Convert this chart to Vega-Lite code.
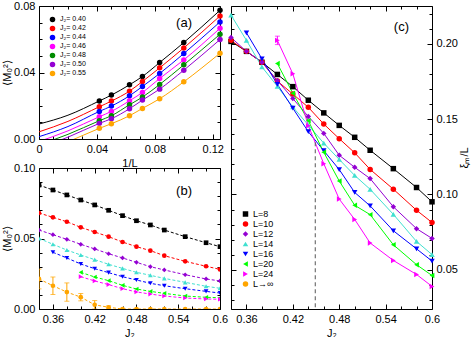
{
  "$schema": "https://vega.github.io/schema/vega-lite/v6.json",
  "padding": {"left": 1, "top": -1, "right": 2, "bottom": 1},
  "config": {
    "font": "Liberation Sans",
    "view": {"stroke": "black", "strokeWidth": 1},
    "axis": {"domain": false, "grid": false, "tickColor": "black", "tickWidth": 1, "labelColor": "black", "labelFontSize": 11, "labelFont": "Liberation Sans", "titleFont": "Liberation Sans", "titleFontSize": 11, "titleFontWeight": "normal", "titleColor": "black", "labelFlush": false, "labelOverlap": false},
    "legend": {"symbolStrokeWidth": 0, "padding": 0},
    "title": {"font": "Liberation Sans", "fontWeight": "normal", "fontSize": 13, "color": "black"}
  },
  "datasets": {
    "a": [
      {"J2": "J₂= 0.40", "kind": "fit", "invL": 0, "M": 0.009},
      {"J2": "J₂= 0.40", "kind": "fit", "invL": 0.02, "M": 0.0143},
      {"J2": "J₂= 0.40", "kind": "data", "invL": 0.04167, "M": 0.0229},
      {"J2": "J₂= 0.40", "kind": "data", "invL": 0.05, "M": 0.0264},
      {"J2": "J₂= 0.40", "kind": "data", "invL": 0.0625, "M": 0.0326},
      {"J2": "J₂= 0.40", "kind": "data", "invL": 0.07143, "M": 0.0376},
      {"J2": "J₂= 0.40", "kind": "data", "invL": 0.08333, "M": 0.046},
      {"J2": "J₂= 0.40", "kind": "data", "invL": 0.1, "M": 0.058},
      {"J2": "J₂= 0.40", "kind": "data", "invL": 0.125, "M": 0.0774},
      {"J2": "J₂= 0.42", "kind": "fit", "invL": 0, "M": 0.0043},
      {"J2": "J₂= 0.42", "kind": "fit", "invL": 0.02, "M": 0.0106},
      {"J2": "J₂= 0.42", "kind": "data", "invL": 0.04167, "M": 0.0194},
      {"J2": "J₂= 0.42", "kind": "data", "invL": 0.05, "M": 0.0228},
      {"J2": "J₂= 0.42", "kind": "data", "invL": 0.0625, "M": 0.0288},
      {"J2": "J₂= 0.42", "kind": "data", "invL": 0.07143, "M": 0.0346},
      {"J2": "J₂= 0.42", "kind": "data", "invL": 0.08333, "M": 0.0428},
      {"J2": "J₂= 0.42", "kind": "data", "invL": 0.1, "M": 0.0548},
      {"J2": "J₂= 0.42", "kind": "data", "invL": 0.125, "M": 0.074},
      {"J2": "J₂= 0.44", "kind": "fit", "invL": 0, "M": 0.0014},
      {"J2": "J₂= 0.44", "kind": "fit", "invL": 0.02, "M": 0.0075},
      {"J2": "J₂= 0.44", "kind": "data", "invL": 0.04167, "M": 0.0166},
      {"J2": "J₂= 0.44", "kind": "data", "invL": 0.05, "M": 0.0198},
      {"J2": "J₂= 0.44", "kind": "data", "invL": 0.0625, "M": 0.026},
      {"J2": "J₂= 0.44", "kind": "data", "invL": 0.07143, "M": 0.0316},
      {"J2": "J₂= 0.44", "kind": "data", "invL": 0.08333, "M": 0.0394},
      {"J2": "J₂= 0.44", "kind": "data", "invL": 0.1, "M": 0.0514},
      {"J2": "J₂= 0.44", "kind": "data", "invL": 0.125, "M": 0.0704},
      {"J2": "J₂= 0.46", "kind": "fit", "invL": 0, "M": -0.0015},
      {"J2": "J₂= 0.46", "kind": "fit", "invL": 0.02, "M": 0.0049},
      {"J2": "J₂= 0.46", "kind": "data", "invL": 0.04167, "M": 0.0134},
      {"J2": "J₂= 0.46", "kind": "data", "invL": 0.05, "M": 0.0166},
      {"J2": "J₂= 0.46", "kind": "data", "invL": 0.0625, "M": 0.023},
      {"J2": "J₂= 0.46", "kind": "data", "invL": 0.07143, "M": 0.028},
      {"J2": "J₂= 0.46", "kind": "data", "invL": 0.08333, "M": 0.0364},
      {"J2": "J₂= 0.46", "kind": "data", "invL": 0.1, "M": 0.0476},
      {"J2": "J₂= 0.46", "kind": "data", "invL": 0.125, "M": 0.0666},
      {"J2": "J₂= 0.48", "kind": "fit", "invL": 0, "M": -0.0035},
      {"J2": "J₂= 0.48", "kind": "fit", "invL": 0.02, "M": 0.0028},
      {"J2": "J₂= 0.48", "kind": "data", "invL": 0.04167, "M": 0.011},
      {"J2": "J₂= 0.48", "kind": "data", "invL": 0.05, "M": 0.014},
      {"J2": "J₂= 0.48", "kind": "data", "invL": 0.0625, "M": 0.0206},
      {"J2": "J₂= 0.48", "kind": "data", "invL": 0.07143, "M": 0.0252},
      {"J2": "J₂= 0.48", "kind": "data", "invL": 0.08333, "M": 0.0328},
      {"J2": "J₂= 0.48", "kind": "data", "invL": 0.1, "M": 0.0446},
      {"J2": "J₂= 0.48", "kind": "data", "invL": 0.125, "M": 0.063},
      {"J2": "J₂= 0.50", "kind": "fit", "invL": 0, "M": -0.0055},
      {"J2": "J₂= 0.50", "kind": "fit", "invL": 0.02, "M": 0.0011},
      {"J2": "J₂= 0.50", "kind": "data", "invL": 0.04167, "M": 0.0094},
      {"J2": "J₂= 0.50", "kind": "data", "invL": 0.05, "M": 0.0122},
      {"J2": "J₂= 0.50", "kind": "data", "invL": 0.0625, "M": 0.0182},
      {"J2": "J₂= 0.50", "kind": "data", "invL": 0.07143, "M": 0.0234},
      {"J2": "J₂= 0.50", "kind": "data", "invL": 0.08333, "M": 0.03},
      {"J2": "J₂= 0.50", "kind": "data", "invL": 0.1, "M": 0.0414},
      {"J2": "J₂= 0.50", "kind": "data", "invL": 0.125, "M": 0.0598},
      {"J2": "J₂= 0.55", "kind": "fit", "invL": 0, "M": -0.0085},
      {"J2": "J₂= 0.55", "kind": "fit", "invL": 0.02, "M": -0.0017},
      {"J2": "J₂= 0.55", "kind": "data", "invL": 0.04167, "M": 0.0064},
      {"J2": "J₂= 0.55", "kind": "data", "invL": 0.05, "M": 0.0092},
      {"J2": "J₂= 0.55", "kind": "data", "invL": 0.0625, "M": 0.014},
      {"J2": "J₂= 0.55", "kind": "data", "invL": 0.07143, "M": 0.0184},
      {"J2": "J₂= 0.55", "kind": "data", "invL": 0.08333, "M": 0.0242},
      {"J2": "J₂= 0.55", "kind": "data", "invL": 0.1, "M": 0.0344},
      {"J2": "J₂= 0.55", "kind": "data", "invL": 0.125, "M": 0.0516}
    ],
    "b": [
      {"L": "L=8", "J2": 0.34, "M": 0.0879}, {"L": "L=8", "J2": 0.36, "M": 0.0844}, {"L": "L=8", "J2": 0.38, "M": 0.0809}, {"L": "L=8", "J2": 0.40, "M": 0.0773}, {"L": "L=8", "J2": 0.42, "M": 0.0738}, {"L": "L=8", "J2": 0.44, "M": 0.0700}, {"L": "L=8", "J2": 0.46, "M": 0.0662}, {"L": "L=8", "J2": 0.48, "M": 0.0626}, {"L": "L=8", "J2": 0.50, "M": 0.0596}, {"L": "L=8", "J2": 0.52, "M": 0.0560}, {"L": "L=8", "J2": 0.55, "M": 0.0513}, {"L": "L=8", "J2": 0.58, "M": 0.0470}, {"L": "L=8", "J2": 0.60, "M": 0.0442},
      {"L": "L=10", "J2": 0.34, "M": 0.0681}, {"L": "L=10", "J2": 0.36, "M": 0.0650}, {"L": "L=10", "J2": 0.38, "M": 0.0619}, {"L": "L=10", "J2": 0.40, "M": 0.0579}, {"L": "L=10", "J2": 0.42, "M": 0.0546}, {"L": "L=10", "J2": 0.44, "M": 0.0513}, {"L": "L=10", "J2": 0.46, "M": 0.0475}, {"L": "L=10", "J2": 0.48, "M": 0.0442}, {"L": "L=10", "J2": 0.50, "M": 0.0414}, {"L": "L=10", "J2": 0.52, "M": 0.0378}, {"L": "L=10", "J2": 0.55, "M": 0.0338}, {"L": "L=10", "J2": 0.58, "M": 0.0303}, {"L": "L=10", "J2": 0.60, "M": 0.0281},
      {"L": "L=12", "J2": 0.34, "M": 0.0560}, {"L": "L=12", "J2": 0.36, "M": 0.0527}, {"L": "L=12", "J2": 0.38, "M": 0.0494}, {"L": "L=12", "J2": 0.40, "M": 0.0459}, {"L": "L=12", "J2": 0.42, "M": 0.0426}, {"L": "L=12", "J2": 0.44, "M": 0.0392}, {"L": "L=12", "J2": 0.46, "M": 0.0362}, {"L": "L=12", "J2": 0.48, "M": 0.0331}, {"L": "L=12", "J2": 0.50, "M": 0.0300}, {"L": "L=12", "J2": 0.52, "M": 0.0277}, {"L": "L=12", "J2": 0.55, "M": 0.0243}, {"L": "L=12", "J2": 0.58, "M": 0.0213}, {"L": "L=12", "J2": 0.60, "M": 0.0199},
      {"L": "L=14", "J2": 0.34, "M": 0.0501}, {"L": "L=14", "J2": 0.36, "M": 0.0459}, {"L": "L=14", "J2": 0.38, "M": 0.0418}, {"L": "L=14", "J2": 0.40, "M": 0.0383}, {"L": "L=14", "J2": 0.42, "M": 0.0350}, {"L": "L=14", "J2": 0.44, "M": 0.0317}, {"L": "L=14", "J2": 0.46, "M": 0.0288}, {"L": "L=14", "J2": 0.48, "M": 0.0260}, {"L": "L=14", "J2": 0.50, "M": 0.0239}, {"L": "L=14", "J2": 0.52, "M": 0.0217}, {"L": "L=14", "J2": 0.55, "M": 0.0189}, {"L": "L=14", "J2": 0.58, "M": 0.0161}, {"L": "L=14", "J2": 0.60, "M": 0.0147},
      {"L": "L=16", "J2": 0.36, "M": 0.0402}, {"L": "L=16", "J2": 0.38, "M": 0.0362}, {"L": "L=16", "J2": 0.40, "M": 0.0319}, {"L": "L=16", "J2": 0.42, "M": 0.0286}, {"L": "L=16", "J2": 0.44, "M": 0.0258}, {"L": "L=16", "J2": 0.46, "M": 0.0229}, {"L": "L=16", "J2": 0.48, "M": 0.0206}, {"L": "L=16", "J2": 0.50, "M": 0.0182}, {"L": "L=16", "J2": 0.52, "M": 0.0165}, {"L": "L=16", "J2": 0.55, "M": 0.0144}, {"L": "L=16", "J2": 0.58, "M": 0.0125}, {"L": "L=16", "J2": 0.60, "M": 0.0113},
      {"L": "L=20", "J2": 0.40, "M": 0.0260}, {"L": "L=20", "J2": 0.42, "M": 0.0227}, {"L": "L=20", "J2": 0.44, "M": 0.0201}, {"L": "L=20", "J2": 0.46, "M": 0.0168}, {"L": "L=20", "J2": 0.48, "M": 0.0142}, {"L": "L=20", "J2": 0.50, "M": 0.0125}, {"L": "L=20", "J2": 0.52, "M": 0.0111}, {"L": "L=20", "J2": 0.55, "M": 0.0092}, {"L": "L=20", "J2": 0.58, "M": 0.0083}, {"L": "L=20", "J2": 0.60, "M": 0.0080},
      {"L": "L=24", "J2": 0.40, "M": 0.0229}, {"L": "L=24", "J2": 0.42, "M": 0.0199}, {"L": "L=24", "J2": 0.44, "M": 0.0173}, {"L": "L=24", "J2": 0.46, "M": 0.0144}, {"L": "L=24", "J2": 0.48, "M": 0.0121}, {"L": "L=24", "J2": 0.50, "M": 0.0106}, {"L": "L=24", "J2": 0.52, "M": 0.0092}, {"L": "L=24", "J2": 0.55, "M": 0.0078}, {"L": "L=24", "J2": 0.58, "M": 0.0071}, {"L": "L=24", "J2": 0.60, "M": 0.0069},
      {"L": "L→∞", "J2": 0.34, "M": 0.0213, "err": 0.007}, {"L": "L→∞", "J2": 0.36, "M": 0.0165, "err": 0.0062}, {"L": "L→∞", "J2": 0.38, "M": 0.012, "err": 0.0065}, {"L": "L→∞", "J2": 0.40, "M": 0.0084, "err": 0.0026}, {"L": "L→∞", "J2": 0.42, "M": 0.003, "err": 0.003}, {"L": "L→∞", "J2": 0.44, "M": 0.0012, "err": 0.001}, {"L": "L→∞", "J2": 0.46, "M": 0}, {"L": "L→∞", "J2": 0.48, "M": 0}, {"L": "L→∞", "J2": 0.50, "M": 0}, {"L": "L→∞", "J2": 0.52, "M": 0}, {"L": "L→∞", "J2": 0.55, "M": 0}, {"L": "L→∞", "J2": 0.58, "M": 0}, {"L": "L→∞", "J2": 0.60, "M": 0}
    ],
    "c": [
      {"L": "L=8", "J2": 0.34, "xi": 0.2015}, {"L": "L=8", "J2": 0.36, "xi": 0.1949}, {"L": "L=8", "J2": 0.38, "xi": 0.1877}, {"L": "L=8", "J2": 0.40, "xi": 0.1796}, {"L": "L=8", "J2": 0.42, "xi": 0.1715}, {"L": "L=8", "J2": 0.44, "xi": 0.1625}, {"L": "L=8", "J2": 0.46, "xi": 0.1541}, {"L": "L=8", "J2": 0.48, "xi": 0.1458}, {"L": "L=8", "J2": 0.50, "xi": 0.1379}, {"L": "L=8", "J2": 0.52, "xi": 0.1293}, {"L": "L=8", "J2": 0.55, "xi": 0.1171}, {"L": "L=8", "J2": 0.58, "xi": 0.1046}, {"L": "L=8", "J2": 0.60, "xi": 0.0951},
      {"L": "L=10", "J2": 0.34, "xi": 0.2022}, {"L": "L=10", "J2": 0.36, "xi": 0.1949}, {"L": "L=10", "J2": 0.38, "xi": 0.1877}, {"L": "L=10", "J2": 0.40, "xi": 0.1752}, {"L": "L=10", "J2": 0.42, "xi": 0.1666}, {"L": "L=10", "J2": 0.44, "xi": 0.1578}, {"L": "L=10", "J2": 0.46, "xi": 0.1467}, {"L": "L=10", "J2": 0.48, "xi": 0.1370}, {"L": "L=10", "J2": 0.50, "xi": 0.1276}, {"L": "L=10", "J2": 0.52, "xi": 0.1166}, {"L": "L=10", "J2": 0.55, "xi": 0.1035}, {"L": "L=10", "J2": 0.58, "xi": 0.0895}, {"L": "L=10", "J2": 0.60, "xi": 0.0814},
      {"L": "L=12", "J2": 0.34, "xi": 0.2041}, {"L": "L=12", "J2": 0.36, "xi": 0.1949}, {"L": "L=12", "J2": 0.38, "xi": 0.1877}, {"L": "L=12", "J2": 0.40, "xi": 0.1755}, {"L": "L=12", "J2": 0.42, "xi": 0.1636}, {"L": "L=12", "J2": 0.44, "xi": 0.1517}, {"L": "L=12", "J2": 0.46, "xi": 0.1405}, {"L": "L=12", "J2": 0.48, "xi": 0.1260}, {"L": "L=12", "J2": 0.50, "xi": 0.1180}, {"L": "L=12", "J2": 0.52, "xi": 0.1105}, {"L": "L=12", "J2": 0.55, "xi": 0.0918}, {"L": "L=12", "J2": 0.58, "xi": 0.0773}, {"L": "L=12", "J2": 0.60, "xi": 0.0708},
      {"L": "L=14", "J2": 0.34, "xi": 0.2190}, {"L": "L=14", "J2": 0.36, "xi": 0.2022}, {"L": "L=14", "J2": 0.38, "xi": 0.1846}, {"L": "L=14", "J2": 0.40, "xi": 0.1717}, {"L": "L=14", "J2": 0.42, "xi": 0.1580}, {"L": "L=14", "J2": 0.44, "xi": 0.1460}, {"L": "L=14", "J2": 0.46, "xi": 0.1340}, {"L": "L=14", "J2": 0.48, "xi": 0.1232}, {"L": "L=14", "J2": 0.50, "xi": 0.1126}, {"L": "L=14", "J2": 0.52, "xi": 0.1034}, {"L": "L=14", "J2": 0.55, "xi": 0.0868}, {"L": "L=14", "J2": 0.58, "xi": 0.0688}, {"L": "L=14", "J2": 0.60, "xi": 0.0601},
      {"L": "L=16", "J2": 0.36, "xi": 0.2072}, {"L": "L=16", "J2": 0.38, "xi": 0.1900}, {"L": "L=16", "J2": 0.40, "xi": 0.1730}, {"L": "L=16", "J2": 0.42, "xi": 0.1572}, {"L": "L=16", "J2": 0.44, "xi": 0.1416}, {"L": "L=16", "J2": 0.46, "xi": 0.1290}, {"L": "L=16", "J2": 0.48, "xi": 0.1165}, {"L": "L=16", "J2": 0.50, "xi": 0.1013}, {"L": "L=16", "J2": 0.52, "xi": 0.0924}, {"L": "L=16", "J2": 0.55, "xi": 0.0759}, {"L": "L=16", "J2": 0.58, "xi": 0.0639}, {"L": "L=16", "J2": 0.60, "xi": 0.0558},
      {"L": "L=20", "J2": 0.40, "xi": 0.1868}, {"L": "L=20", "J2": 0.42, "xi": 0.1671}, {"L": "L=20", "J2": 0.44, "xi": 0.1489}, {"L": "L=20", "J2": 0.46, "xi": 0.1280}, {"L": "L=20", "J2": 0.48, "xi": 0.1089}, {"L": "L=20", "J2": 0.50, "xi": 0.0928}, {"L": "L=20", "J2": 0.52, "xi": 0.0866}, {"L": "L=20", "J2": 0.55, "xi": 0.0666}, {"L": "L=20", "J2": 0.58, "xi": 0.0534}, {"L": "L=20", "J2": 0.60, "xi": 0.0462},
      {"L": "L=24", "J2": 0.40, "xi": 0.2022, "err": 0.0028}, {"L": "L=24", "J2": 0.42, "xi": 0.1800}, {"L": "L=24", "J2": 0.44, "xi": 0.1456}, {"L": "L=24", "J2": 0.46, "xi": 0.1204}, {"L": "L=24", "J2": 0.48, "xi": 0.0969}, {"L": "L=24", "J2": 0.50, "xi": 0.0834}, {"L": "L=24", "J2": 0.52, "xi": 0.0678}, {"L": "L=24", "J2": 0.55, "xi": 0.0562}, {"L": "L=24", "J2": 0.58, "xi": 0.0469}, {"L": "L=24", "J2": 0.60, "xi": 0.0390}
    ],
    "crule": [{"Jc": 0.449, "top": 0.1346, "bottom": 0.024}]
  },
  "spacing": -2,
  "resolve": {"scale": {"color": "independent", "shape": "independent", "stroke": "independent", "strokeWidth": "independent"}},
  "hconcat": [
    {
      "bounds": "flush",
      "spacing": 29,
      "resolve": {"scale": {"color": "independent", "shape": "independent", "stroke": "independent"}},
      "vconcat": [
        {
          "width": 181, "height": 133,
          "title": {"text": "(a)", "anchor": "end", "frame": "group", "offset": -39.5, "dx": -28, "baseline": "alphabetic"},
          "data": {"name": "a"},
          "resolve": {"axis": {"x": "independent", "y": "independent"}},
          "layer": [
            {
              "mark": {"type": "line", "interpolate": "monotone", "clip": true, "strokeWidth": 1},
              "encoding": {
                "x": {"field": "invL", "type": "quantitative", "scale": {"domain": [0, 0.125], "nice": false, "zero": false},
                  "axis": {"orient": "bottom", "values": [0,0.01,0.02,0.03,0.04,0.05,0.06,0.07,0.08,0.09,0.1,0.11,0.12],
                    "tickSize": {"condition": {"test": "indexof([0,0.04,0.08,0.12], datum.value) >= 0", "value": -5}, "value": -3},
                    "labelExpr": "datum.value == 0 ? '0' : indexof([0.04,0.08,0.12], datum.value) >= 0 ? format(datum.value, '.2f') : ''",
                    "labelPadding": 9, "title": "1/L", "titlePadding": 1}},
                "y": {"field": "M", "type": "quantitative", "scale": {"domain": [0, 0.08], "nice": false, "zero": false},
                  "axis": {"orient": "left", "values": [0,0.01,0.02,0.03,0.04,0.05,0.06,0.07,0.08],
                    "tickSize": {"condition": {"test": "indexof([0,0.04,0.08], datum.value) >= 0", "value": -5}, "value": -3},
                    "labelExpr": "indexof([0,0.04,0.08], datum.value) >= 0 ? format(datum.value, '.2f') : ''",
                    "labelPadding": 9, "title": "⟨M₀²⟩", "titlePadding": 1}},
                "stroke": {"field": "J2", "type": "nominal", "legend": null,
                  "scale": {"range": ["#000000","#ff0000","#0000ff","#ff00ff","#008b00","#9400d3","#ffa500"]}}
              }
            },
            {
              "transform": [{"filter": "datum.kind == 'data'"}],
              "mark": {"type": "point", "filled": true, "shape": "circle", "size": 30, "opacity": 1},
              "encoding": {
                "x": {"field": "invL", "type": "quantitative",
                  "axis": {"orient": "top", "values": [0,0.01,0.02,0.03,0.04,0.05,0.06,0.07,0.08,0.09,0.1,0.11,0.12],
                    "tickSize": {"condition": {"test": "indexof([0,0.04,0.08,0.12], datum.value) >= 0", "value": -5}, "value": -3},
                    "labels": false, "title": null}},
                "y": {"field": "M", "type": "quantitative",
                  "axis": {"orient": "right", "values": [0,0.01,0.02,0.03,0.04,0.05,0.06,0.07,0.08],
                    "tickSize": {"condition": {"test": "indexof([0,0.04,0.08], datum.value) >= 0", "value": -5}, "value": -3},
                    "labels": false, "title": null}},
                "color": {"field": "J2", "type": "nominal",
                  "scale": {"domain": ["J₂= 0.40","J₂= 0.42","J₂= 0.44","J₂= 0.46","J₂= 0.48","J₂= 0.50","J₂= 0.55"],
                    "range": ["#000000","#ff0000","#0000ff","#ff00ff","#008b00","#9400d3","#ffa500"]},
                  "legend": {"orient": "none", "legendX": 10, "legendY": 9, "title": null, "labelFontSize": 7, "symbolSize": 30, "symbolType": "circle", "rowPadding": 0, "clipHeight": 8.8, "labelOffset": 4, "symbolStrokeWidth": 0}}
              }
            }
          ]
        },
        {
          "width": 181, "height": 141,
          "title": {"text": "(b)", "anchor": "end", "frame": "group", "offset": -46, "dx": -28, "baseline": "alphabetic"},
          "data": {"name": "b"},
          "resolve": {"axis": {"x": "independent", "y": "independent"}},
          "layer": [
            {
              "mark": {"type": "line", "strokeWidth": 1, "strokeDash": [3, 2], "clip": true},
              "encoding": {
                "x": {"field": "J2", "type": "quantitative", "scale": {"domain": [0.34, 0.6], "nice": false, "zero": false},
                  "axis": {"orient": "bottom", "values": [0.34,0.36,0.38,0.4,0.42,0.44,0.46,0.48,0.5,0.52,0.54,0.56,0.58,0.6],
                    "tickSize": {"condition": {"test": "indexof([0.36,0.42,0.48,0.54,0.6], datum.value) >= 0", "value": -5}, "value": -3},
                    "labelExpr": "datum.value == 0.6 ? '0.6' : indexof([0.36,0.42,0.48,0.54], datum.value) >= 0 ? format(datum.value, '.2f') : ''",
                    "labelPadding": 9, "title": "J₂", "titlePadding": 1}},
                "y": {"field": "M", "type": "quantitative", "scale": {"domain": [0, 0.1], "nice": false, "zero": false},
                  "axis": {"orient": "left", "values": [0,0.01,0.02,0.03,0.04,0.05,0.06,0.07,0.08,0.09,0.1],
                    "tickSize": {"condition": {"test": "indexof([0,0.05,0.1], datum.value) >= 0", "value": -5}, "value": -3},
                    "labelExpr": "indexof([0,0.05,0.1], datum.value) >= 0 ? format(datum.value, '.2f') : ''",
                    "labelPadding": 9, "title": "⟨M₀²⟩", "titlePadding": 1}},
                "stroke": {"field": "L", "type": "nominal", "legend": null,
                  "scale": {"domain": ["L=8","L=10","L=12","L=14","L=16","L=20","L=24","L→∞"],
                    "range": ["#000000","#ff0000","#9400d3","#40e0d0","#0000ff","#00ff00","#ff00ff","#ffa500"]}}
              }
            },
            {
              "mark": {"type": "point", "filled": true, "size": 22, "opacity": 1, "clip": true},
              "encoding": {
                "x": {"field": "J2", "type": "quantitative",
                  "axis": {"orient": "top", "values": [0.34,0.36,0.38,0.4,0.42,0.44,0.46,0.48,0.5,0.52,0.54,0.56,0.58,0.6],
                    "tickSize": {"condition": {"test": "indexof([0.36,0.42,0.48,0.54,0.6], datum.value) >= 0", "value": -5}, "value": -3},
                    "labels": false, "title": null}},
                "y": {"field": "M", "type": "quantitative",
                  "axis": {"orient": "right", "values": [0,0.01,0.02,0.03,0.04,0.05,0.06,0.07,0.08,0.09,0.1],
                    "tickSize": {"condition": {"test": "indexof([0,0.05,0.1], datum.value) >= 0", "value": -5}, "value": -3},
                    "labels": false, "title": null}},
                "color": {"field": "L", "type": "nominal", "legend": null,
                  "scale": {"domain": ["L=8","L=10","L=12","L=14","L=16","L=20","L=24","L→∞"],
                    "range": ["#000000","#ff0000","#9400d3","#40e0d0","#0000ff","#00ff00","#ff00ff","#ffa500"]}},
                "shape": {"field": "L", "type": "nominal", "legend": null,
                  "scale": {"domain": ["L=8","L=10","L=12","L=14","L=16","L=20","L=24","L→∞"],
                    "range": ["square","circle","diamond","triangle-up","triangle-down","triangle-left","triangle-right","circle"]}}
              }
            },
            {
              "transform": [{"filter": "datum.err > 0"}],
              "mark": {"type": "errorbar", "color": "#ffa500", "ticks": true, "clip": true},
              "encoding": {
                "x": {"field": "J2", "type": "quantitative", "axis": null},
                "y": {"field": "M", "type": "quantitative", "axis": null},
                "yError": {"field": "err"}
              }
            }
          ]
        }
      ]
    },
    {
      "width": 201, "height": 303,
      "title": {"text": "(c)", "anchor": "end", "frame": "group", "offset": -38, "dx": -23, "baseline": "alphabetic"},
      "data": {"name": "c"},
      "resolve": {"axis": {"x": "independent", "y": "independent"}},
      "layer": [
        {
          "mark": {"type": "line", "clip": true},
          "encoding": {
            "x": {"field": "J2", "type": "quantitative", "scale": {"domain": [0.34, 0.6], "nice": false, "zero": false},
              "axis": {"orient": "bottom", "values": [0.34,0.36,0.38,0.4,0.42,0.44,0.46,0.48,0.5,0.52,0.54,0.56,0.58,0.6],
                "tickSize": {"condition": {"test": "indexof([0.36,0.42,0.48,0.54,0.6], datum.value) >= 0", "value": -5}, "value": -3},
                "labelExpr": "datum.value == 0.6 ? '0.6' : indexof([0.36,0.42,0.48,0.54], datum.value) >= 0 ? format(datum.value, '.2f') : ''",
                "labelPadding": 9, "title": "J₂", "titlePadding": 1}},
            "y": {"field": "xi", "type": "quantitative", "scale": {"domain": [0.024, 0.225], "nice": false, "zero": false},
              "axis": {"orient": "left", "values": [0.03,0.04,0.05,0.06,0.07,0.08,0.09,0.1,0.11,0.12,0.13,0.14,0.15,0.16,0.17,0.18,0.19,0.2,0.21,0.22],
                "tickSize": {"condition": {"test": "indexof([0.05,0.1,0.15,0.2], datum.value) >= 0", "value": -5}, "value": -3},
                "labels": false, "title": null}},
            "stroke": {"field": "L", "type": "nominal", "legend": null,
              "scale": {"domain": ["L=8","L=10","L=12","L=14","L=16","L=20","L=24"],
                "range": ["#000000","#ff0000","#9400d3","#40e0d0","#0000ff","#00ff00","#ff00ff"]}},
            "strokeWidth": {"field": "L", "type": "nominal", "legend": null,
              "scale": {"domain": ["L=8","L=10","L=12","L=14","L=16","L=20","L=24"], "range": [1,1,1,1,2,2,2]}}
          }
        },
        {
          "mark": {"type": "point", "filled": true, "size": 30, "opacity": 1},
          "encoding": {
            "x": {"field": "J2", "type": "quantitative",
              "axis": {"orient": "top", "values": [0.34,0.36,0.38,0.4,0.42,0.44,0.46,0.48,0.5,0.52,0.54,0.56,0.58,0.6],
                "tickSize": {"condition": {"test": "indexof([0.36,0.42,0.48,0.54,0.6], datum.value) >= 0", "value": -5}, "value": -3},
                "labels": false, "title": null}},
            "y": {"field": "xi", "type": "quantitative",
              "axis": {"orient": "right", "values": [0.03,0.04,0.05,0.06,0.07,0.08,0.09,0.1,0.11,0.12,0.13,0.14,0.15,0.16,0.17,0.18,0.19,0.2,0.21,0.22],
                "tickSize": {"condition": {"test": "indexof([0.05,0.1,0.15,0.2], datum.value) >= 0", "value": -5}, "value": -3},
                "labelExpr": "indexof([0.05,0.1,0.15,0.2], datum.value) >= 0 ? format(datum.value, '.2f') : ''",
                "labelPadding": 9, "title": "ξₘ/L", "titleAngle": 270, "titleBaseline": "top", "titlePadding": 1}},
            "color": {"field": "L", "type": "nominal",
              "scale": {"domain": ["L=8","L=10","L=12","L=14","L=16","L=20","L=24","L→∞"],
                "range": ["#000000","#ff0000","#9400d3","#40e0d0","#0000ff","#00ff00","#ff00ff","#ffa500"]},
              "legend": {"orient": "none", "legendX": 10, "legendY": 203, "title": null, "labelFontSize": 9, "symbolSize": 30, "rowPadding": 0, "clipHeight": 10, "labelOffset": 3, "symbolStrokeWidth": 0}},
            "shape": {"field": "L", "type": "nominal",
              "scale": {"domain": ["L=8","L=10","L=12","L=14","L=16","L=20","L=24","L→∞"],
                "range": ["square","circle","diamond","triangle-up","triangle-down","triangle-left","triangle-right","circle"]},
              "legend": {"orient": "none", "legendX": 10, "legendY": 203, "title": null, "labelFontSize": 9, "symbolSize": 30, "rowPadding": 0, "clipHeight": 10, "labelOffset": 3, "symbolStrokeWidth": 0}}
          }
        },
        {
          "data": {"name": "crule"},
          "mark": {"type": "rule", "color": "#555555", "strokeDash": [4, 3], "strokeWidth": 1},
          "encoding": {
            "x": {"field": "Jc", "type": "quantitative", "axis": null},
            "y": {"field": "top", "type": "quantitative", "axis": null},
            "y2": {"field": "bottom"}
          }
        },
        {
          "transform": [{"filter": "datum.err > 0"}],
          "mark": {"type": "errorbar", "color": "#ff00ff", "ticks": true},
          "encoding": {
            "x": {"field": "J2", "type": "quantitative", "axis": null},
            "y": {"field": "xi", "type": "quantitative", "axis": null},
            "yError": {"field": "err"}
          }
        }
      ]
    }
  ]
}
